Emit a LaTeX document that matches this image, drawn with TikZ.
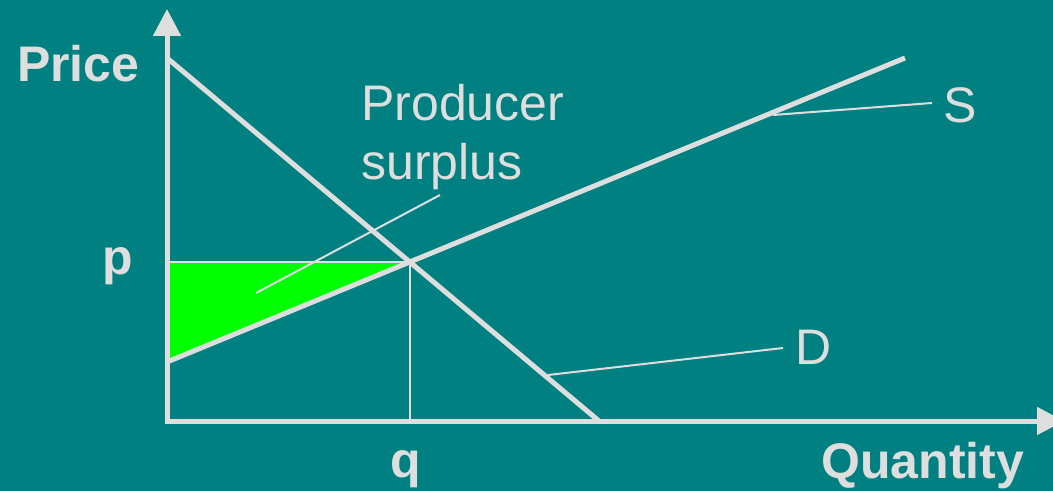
\documentclass[tikz,border=0pt]{standalone}
\usepackage{fontspec}
\setmainfont{Liberation Sans}
\usetikzlibrary{arrows.meta}
\definecolor{bg}{HTML}{008080}
\definecolor{ln}{HTML}{DEDEDE}
\definecolor{surplus}{HTML}{00FF00}
\tikzset{
  axis/.style={draw=ln,line width=5bp,-{Triangle[length=27bp,width=27bp]}},
  curve/.style={draw=ln,line width=5bp},
  guide/.style={draw=ln,line width=2.5bp},
  leader/.style={draw=ln,line width=2bp},
  lbl/.style={text=ln,inner sep=0pt,anchor=base west,font=\fontsize{50bp}{59bp}\selectfont},
  blbl/.style={lbl,font=\fontsize{50bp}{59bp}\selectfont\bfseries},
}
\begin{document}
\begin{tikzpicture}[x=1bp,y=-1bp]
\fill[bg] (0,0) rectangle (1053,491);
\useasboundingbox (0,0) rectangle (1053,491);
\coordinate (O) at (167,421);
\coordinate (ytip) at (167,9);
\coordinate (xtip) at (1064,421);
\coordinate (D0) at (167,58);
\coordinate (D1) at (599,421);
\coordinate (S0) at (167,362);
\coordinate (S1) at (905,58);
\coordinate (E) at (410,262);
\coordinate (P) at (167,262);
\coordinate (Q) at (410,421);
% surplus triangle
\fill[surplus] (P) -- (E) -- (S0) -- cycle;
% guides
\draw[guide] (P) -- (E);
\draw[guide,line width=2bp] (E) -- (Q);
% curves
\draw[curve] (D0) -- (D1);
\draw[curve] (S0) -- (S1);
% axes
\begin{scope}
\clip (0,0) rectangle (1053,491);
\draw[axis] (O) -- (ytip);
\draw[axis] ([xshift=-2.5bp]O) -- (xtip);
\end{scope}
% labels
\node[blbl] (price) at (17,82) {Price};
\node[blbl] (plbl) at (102,275) {p};
\node[blbl] (qlbl) at (390,477) {q};
\node[blbl] (qty) at (821,478) {Quantity};
\node[lbl] (prod) at (361,121) {Producer};
\node[lbl] (surp) at (361,180) {surplus};
\node[lbl] (slbl) at (943,123) {S};
\node[lbl] (dlbl) at (795,365) {D};
% leaders
\coordinate (psA) at (440,195);
\coordinate (psB) at (256,293);
\coordinate (sA) at (932,103);
\coordinate (sB) at (773,115);
\coordinate (dA) at (783,348);
\coordinate (dB) at (548,375);
\draw[leader] (psA) -- (psB);
\draw[leader] (sA) -- (sB);
\draw[leader] (dA) -- (dB);
\end{tikzpicture}
\end{document}
